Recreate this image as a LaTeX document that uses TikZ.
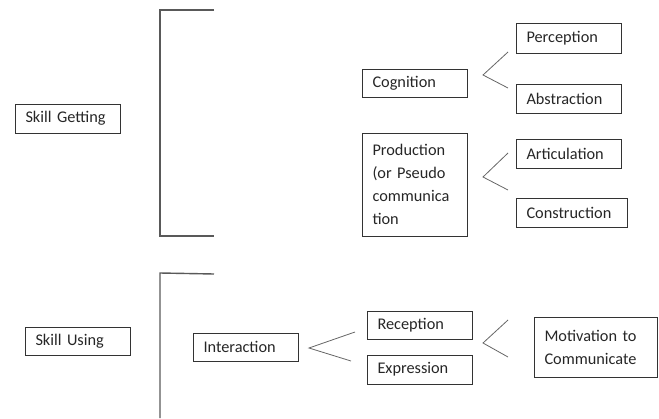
\documentclass[tikz,border=0pt]{standalone}
\usepackage{fontspec}
\setmainfont{Carlito}
\newcommand{\boxfont}{\fontsize{16.3}{23}\selectfont\spaceskip=0.14em\relax}
\newcommand{\lowr}[1]{\raisebox{-2.5pt}{#1}}
\begin{document}
\begin{tikzpicture}[x=1pt,y=-1pt,
  box/.style={draw=black!80,line width=1pt,inner xsep=10pt,inner ysep=0pt,align=left,font=\boxfont,text=black!85},
  brk/.style={draw=black!65,line width=1.4pt},
  chev/.style={draw=black!60,line width=0.8pt}]
\useasboundingbox (0,0) rectangle (659,418);
\newcommand{\bx}[6]{\node[box,minimum width=#4,minimum height=#5,text width=#4-21] (#1) at (#2,#3) {#6};}
\bx{sg}{67.5}{118.5}{105}{29}{\lowr{Skill Getting}}
\bx{cog}{414.5}{83}{105}{28}{\lowr{Cognition}}
\bx{per}{568.5}{38}{105}{30}{\lowr{Perception}}
\bx{abs}{568.5}{98.5}{105}{29}{\lowr{Abstraction}}
\bx{pro}{414.5}{184.5}{105}{103}{Production\\(or Pseudo\\communica\\tion}
\bx{art}{568.5}{153.5}{105}{29}{\lowr{Articulation}}
\bx{con}{571.5}{212.5}{111}{29}{\lowr{Construction}}
\bx{su}{77.5}{341}{105}{28}{\lowr{Skill Using}}
\bx{int}{245.5}{347}{105}{28}{\lowr{Interaction}}
\bx{rec}{419.5}{325}{105}{28}{\lowr{Reception}}
\bx{exp}{419.5}{369.5}{105}{29}{\lowr{Expression}}
\bx{mot}{595.5}{347}{123}{60}{Motivation to\\Communicate}
% brackets
\coordinate (b1a) at (214,10); \coordinate (b1b) at (160,10);
\coordinate (b1c) at (160,236); \coordinate (b1d) at (214,236);
\draw[brk] (b1a) -- (b1b) -- (b1c) -- (b1d);
\coordinate (b2a) at (214,274); \coordinate (b2b) at (160,273);
\coordinate (b2c) at (160,418);
\draw[brk] (b2a) -- (b2b) -- (b2c);
% chevrons
\coordinate (c1t) at (508,52); \coordinate (c1v) at (483,75); \coordinate (c1b) at (508,88);
\draw[chev] (c1t) -- (c1v) -- (c1b);
\coordinate (c2t) at (508,153); \coordinate (c2v) at (483,177); \coordinate (c2b) at (508,190);
\draw[chev] (c2t) -- (c2v) -- (c2b);
\coordinate (c3t) at (355,332); \coordinate (c3v) at (309,348); \coordinate (c3b) at (351,361);
\draw[chev] (c3t) -- (c3v) -- (c3b);
\coordinate (c4t) at (508,320); \coordinate (c4v) at (483,343); \coordinate (c4b) at (508,357);
\draw[chev] (c4t) -- (c4v) -- (c4b);
\end{tikzpicture}
\end{document}
